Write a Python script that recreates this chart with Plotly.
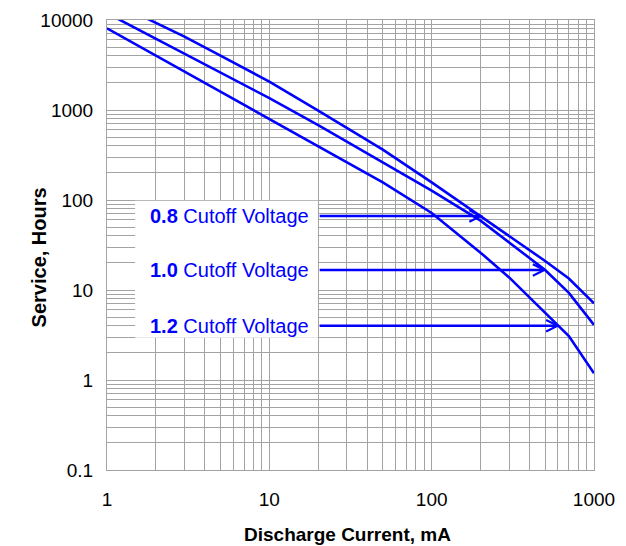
import math
import plotly.graph_objects as go

# ---- data ----
current_ma = [1, 2, 3, 5, 10, 20, 30, 50, 100, 200, 300, 500, 700, 1000]
hours_08 = [17000, 9300, 6530, 4020, 2065, 986, 632, 362, 157, 66, 40.4, 21, 13.4, 7.1]
hours_10 = [11900, 6190, 4230, 2610, 1355, 680, 446, 262, 127, 59, 33.7, 16.7, 9.3, 4.1]
hours_12 = [8090, 4015, 2670, 1590, 791, 396, 264, 157, 71.7, 26, 13.8, 5.56, 3.08, 1.19]

cutoff_labels = ["0.8", "1.0", "1.2"]
arrow_y = [66.4, 16.7, 4.0]
arrow_tip_x = [208, 512, 618]
arrow_tail_x = 20
label_right_x = 18

x_decades = [1, 10, 100, 1000]
x_decade_labels = ["1", "10", "100", "1000"]
y_decades = [0.1, 1, 10, 100, 1000, 10000]
y_decade_labels = ["0.1", "1", "10", "100", "1000", "10000"]

# label box bounds (data units)
box_x = [1.49, 19.9]
box_y = [2.95, 98]

BLUE = "#0000ff"
GRID = "#a3a3a3"
FONT = "Liberation Sans, Arial, sans-serif"


def grid_ticks(decades, labels):
    vals, texts = [], []
    for i, d in enumerate(decades):
        vals.append(d)
        texts.append(labels[i])
        if i < len(decades) - 1:
            for m in range(2, 10):
                vals.append(d * m)
                texts.append("")
    return vals, texts


xt_vals, xt_text = grid_ticks(x_decades, x_decade_labels)
yt_vals, yt_text = grid_ticks(y_decades, y_decade_labels)

fig = go.Figure()

# white box behind labels
fig.add_trace(go.Scatter(
    x=[box_x[0], box_x[1], box_x[1], box_x[0], box_x[0]],
    y=[box_y[0], box_y[0], box_y[1], box_y[1], box_y[0]],
    mode="lines", fill="toself", fillcolor="white",
    line=dict(width=0, color="white"), hoverinfo="skip", showlegend=False))

for ys in (hours_08, hours_10, hours_12):
    fig.add_trace(go.Scatter(
        x=current_ma, y=ys, mode="lines",
        line=dict(color=BLUE, width=2.6), showlegend=False))

annotations = []
for lab, yv, tip in zip(cutoff_labels, arrow_y, arrow_tip_x):
    annotations.append(dict(
        x=math.log10(tip), y=math.log10(yv), xref="x", yref="y",
        ax=math.log10(arrow_tail_x), ay=math.log10(yv), axref="x", ayref="y",
        text="", showarrow=True, arrowhead=5, arrowsize=0.9,
        arrowwidth=2.5, arrowcolor=BLUE))
    annotations.append(dict(
        x=math.log10(label_right_x), y=math.log10(yv), xref="x", yref="y",
        text=f"<b>{lab}</b> Cutoff Voltage", showarrow=False,
        xanchor="right", yanchor="middle",
        font=dict(family=FONT, size=20, color=BLUE)))

annotations.append(dict(
    x=0.493, y=-0.144, xref="paper", yref="paper",
    text="<b>Discharge Current, mA</b>", showarrow=False,
    xanchor="center", yanchor="middle",
    font=dict(family=FONT, size=19, color="black")))
annotations.append(dict(
    x=-0.14, y=0.472, xref="paper", yref="paper",
    text="<b>Service, Hours</b>", showarrow=False, textangle=-90,
    xanchor="center", yanchor="middle",
    font=dict(family=FONT, size=20, color="black")))

fig.update_layout(
    width=618, height=538,
    margin=dict(l=99, r=32, t=12, b=76),
    paper_bgcolor="white", plot_bgcolor="white",
    font=dict(family=FONT, size=19, color="black"),
    annotations=annotations,
    showlegend=False,
)
fig.update_xaxes(
    type="log", range=[0, 3], automargin=False,
    tickvals=xt_vals, ticktext=xt_text,
    showgrid=True, gridcolor=GRID, gridwidth=1,
    showline=True, linecolor=GRID, mirror=True,
    ticks="outside", ticklen=12, tickcolor="rgba(0,0,0,0)",
    zeroline=False, tickfont=dict(size=19))
fig.update_yaxes(
    type="log", range=[-1, 4], automargin=False,
    tickvals=yt_vals, ticktext=yt_text,
    showgrid=True, gridcolor=GRID, gridwidth=1,
    showline=True, linecolor=GRID, mirror=True,
    ticks="outside", ticklen=9, tickcolor="rgba(0,0,0,0)",
    zeroline=False, tickfont=dict(size=19))

fig.write_html("out.html")
